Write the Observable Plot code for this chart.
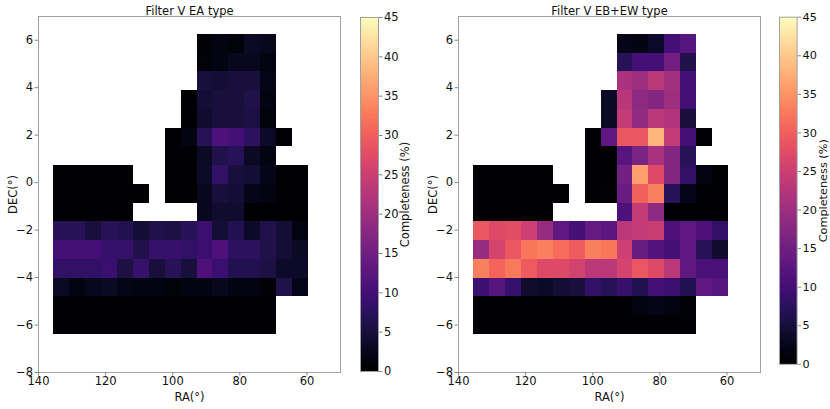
<!DOCTYPE html>
<html><head><meta charset="utf-8">
<script src="https://cdn.jsdelivr.net/npm/d3@7"></script>
<script src="https://cdn.jsdelivr.net/npm/@observablehq/plot@0.6"></script>
<style>
body{margin:0;background:#fff}
#wrap{position:relative;width:830px;height:409px;overflow:hidden;background:#fff}
#wrap > div{position:absolute;top:0}
</style>
</head><body><div id="wrap"></div>
<script>
// RA bin centres (deg), left to right on the plot (RA decreasing)
const raCenters = [133.125,128.375,123.625,118.875,114.125,109.375,104.625,99.875,95.125,90.375,85.625,80.875,76.125,71.375,66.625,61.875];
// DEC bin centres (deg), top to bottom
const decCenters = [5.855,5.065,4.275,3.485,2.695,1.905,1.115,0.325,-0.465,-1.255,-2.045,-2.835,-3.625,-4.415,-5.205,-5.995];
const raWidth = 4.75;
const decHeight = 0.79;
const N = null;

// Completeness (%) for EA type, rows follow decCenters, columns follow raCenters
const eaValues = [
  [N,N,N,N,N,N,N,N,N,0.5,1.5,1,3,2.5,N,N],
  [N,N,N,N,N,N,N,N,N,1,1.5,2.5,2.5,1.5,N,N],
  [N,N,N,N,N,N,N,N,N,5,4.5,5,5,2,N,N],
  [N,N,N,N,N,N,N,N,0.3,4.5,5,5,6,1.5,N,N],
  [N,N,N,N,N,N,N,N,0.3,4,5,5,5.5,1,N,N],
  [N,N,N,N,N,N,N,0,1.5,7,11,10,7.5,3.5,0,N],
  [N,N,N,N,N,N,N,0,0,3,6,7,3,1.5,N,N],
  [0.2,0.2,0.2,0.2,0.2,N,N,0,0,3.5,8,5,4.5,2,0,0],
  [0.2,0.2,0.2,0.2,0.2,0.2,N,0,0,2.5,5,4.5,2,1.5,0,0],
  [0.2,0.2,0.2,0.2,0.2,N,N,N,N,2.5,4,4,0,0,0,0],
  [7,7,5,7,6.5,4.5,6,5.5,7,9,4.5,6.5,3.5,6,4.5,1.5],
  [10,10,10,8.5,8.5,6,8.5,8.5,8,9,11,7.5,7.5,6,4.5,3],
  [8,8,8,9,5.5,8.5,5,7,5,11,9,6.5,6.5,5.5,3.5,3.5],
  [3,1.5,2.5,3,2,1.5,1.5,1,1.5,1.5,2.5,1.5,1.5,0.5,6,2],
  [0.3,0.3,0.3,0.3,0.3,0.3,0.3,0.3,0.3,0.3,0.3,0.3,0.3,0.3,N,N],
  [0.2,0.2,0.2,0.2,0.2,0.2,0.2,0.2,0.2,0.2,0.2,0.2,0.2,0.2,N,N]
];

// Completeness (%) for EB+EW type
const ebewValues = [
  [N,N,N,N,N,N,N,N,N,2,1.5,3.5,10,12,N,N],
  [N,N,N,N,N,N,N,N,N,7,10,10,15,6,N,N],
  [N,N,N,N,N,N,N,N,N,21,20,23,20.5,10,N,N],
  [N,N,N,N,N,N,N,N,3,22.5,18,17,20,10,N,N],
  [N,N,N,N,N,N,N,N,3,24,18.5,23,22,5,N,N],
  [N,N,N,N,N,N,N,0,13,29,29,38,24,10,0,N],
  [N,N,N,N,N,N,N,0,0,12,16,21,17,7,N,N],
  [0.2,0.2,0.2,0.2,0.2,N,N,0,0,15,36,27,17,8,1.5,0],
  [0.2,0.2,0.2,0.2,0.2,0.2,N,0,0.5,14,30,33,7,2,0,0],
  [0.2,0.2,0.2,0.2,0.2,N,N,N,N,11,24,18,0,0,0,0],
  [29,27,27.5,25,19,13,10,13.5,12.5,23,24,24.5,11,13,11,8],
  [19,26,29,32,33,31,29.5,33,32,25,14,11.5,10,13,7,4],
  [33,30.5,32.5,29.5,27,27,25.5,23,23,26,29,27,23,13,10.5,10.5],
  [9,12,8.5,4,3.5,4.5,5,8,7,8.5,6.5,10,9,6.5,13,12],
  [0.3,0.3,0.3,0.3,0.3,0.3,0.3,0.3,0.3,0.3,1.5,2,1.5,0.8,N,N],
  [0.2,0.2,0.2,0.2,0.2,0.2,0.2,0.2,0.2,0.2,0.2,0.2,0.2,0.2,N,N]
];

const titles = ["Filter V EA type", "Filter V EB+EW type"];
const raTicks = [140,120,100,80,60];
const decTicks = [-8,-6,-4,-2,0,2,4,6];
const colorTicks = [0,5,10,15,20,25,30,35,40,45];

const FS = 11.5;
const FONT = {fontFamily: "'DejaVu Sans', sans-serif", fontSize: FS + "px", color: "#000", background: "transparent", overflow: "visible"};
const fmt = d => d < 0 ? "\u2212" + (-d) : String(d);
const colorScale = {type: "linear", scheme: "magma", domain: [0, 45]};

function heatmap(values, title) {
  const cells = [];
  values.forEach((row, j) => row.forEach((v, i) => {
    if (v != null) cells.push({ra: raCenters[i], dec: decCenters[j], v});
  }));
  return Plot.plot({
    width: 345, height: 409,
    marginLeft: 38, marginRight: 5, marginTop: 16, marginBottom: 37,
    style: FONT,
    x: {domain: [140, 50]},
    y: {domain: [-8, 7]},
    color: colorScale,
    marks: [
      Plot.rect(cells, {
        x1: d => d.ra + raWidth / 2, x2: d => d.ra - raWidth / 2,
        y1: d => d.dec - decHeight / 2, y2: d => d.dec + decHeight / 2,
        fill: "v", shapeRendering: "crispEdges"
      }),
      Plot.frame({stroke: "#a0a0a0"}),
      Plot.axisX(raTicks, {tickSize: 3.5, tickPadding: 1, fontSize: FS, stroke: "#888", fill: "#111", label: "RA(°)", labelAnchor: "center", labelOffset: 28, labelArrow: "none"}),
      Plot.axisY(decTicks, {tickSize: 3.5, tickPadding: 2, fontSize: FS, stroke: "#888", fill: "#111", tickFormat: fmt, label: "DEC(°)", labelAnchor: "center", labelOffset: 30, labelArrow: "none"}),
      Plot.text([title], {frameAnchor: "top", lineAnchor: "bottom", dy: -2, fontSize: FS, fill: "#111"})
    ]
  });
}

function colorbar() {
  const steps = d3.range(0, 45, 0.25);
  return Plot.plot({
    width: 52, height: 409,
    marginLeft: 0, marginRight: 34, marginTop: 17, marginBottom: 38,
    style: FONT,
    x: {axis: null, domain: [0, 1]},
    y: {domain: [0, 45]},
    color: colorScale,
    marks: [
      Plot.rect(steps, {x1: 0, x2: 1, y1: d => d, y2: d => d + 0.25, fill: d => d, shapeRendering: "crispEdges"}),
      Plot.frame({stroke: "#a0a0a0"}),
      Plot.axisY(colorTicks, {anchor: "right", tickSize: 3.5, tickPadding: 2, fontSize: FS, stroke: "#888", fill: "#111", label: "Completeness (%)", labelAnchor: "center", labelOffset: 30, labelArrow: "none"})
    ]
  });
}

const wrap = document.getElementById("wrap");
function place(node, left) {
  const d = document.createElement("div");
  d.style.left = left + "px";
  d.appendChild(node);
  wrap.appendChild(d);
}
place(heatmap(eaValues, titles[0]), 0);
place(colorbar(), 360);
place(heatmap(ebewValues, titles[1]), 420);
place(colorbar(), 779);
</script>
</body></html>
